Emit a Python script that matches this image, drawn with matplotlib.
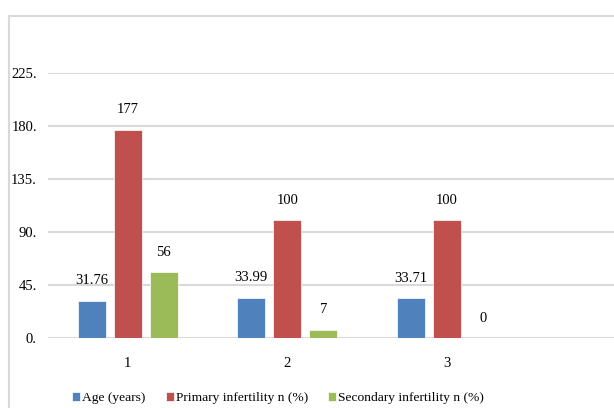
import numpy as np
import matplotlib.pyplot as plt
from matplotlib.patches import Rectangle

plt.rcParams['font.family'] = ['Liberation Serif', 'DejaVu Serif']

groups = ['1', '2', '3']
age_years = [31.76, 33.99, 33.71]
primary = [177, 100, 100]
secondary = [56, 7, 0]
series = [
    ('Age (years)', age_years, '#4F81BD'),
    ('Primary infertility n (%)', primary, '#C0504D'),
    ('Secondary infertility n (%)', secondary, '#9BBB59'),
]
yticks = [0, 45, 90, 135, 180, 225]

W, H = 614, 408
fig = plt.figure(figsize=(W / 100, H / 100), dpi=100)

# outer chart frame (only left and top visible)
fig.patches.append(Rectangle((9 / W, -0.1), 1.2, 1 - 16 / H + 0.1,
                             transform=fig.transFigure, fill=False,
                             edgecolor='#D9D9D9', linewidth=1.5))

# plot area: x from 48 px to past the right edge, y 0 at 338 px, 225 at 73 px
x0, x1 = 48, 48 + 3.55 * 159.5
y0, ytop = 338, 73
ax = fig.add_axes([x0 / W, 1 - y0 / H, (x1 - x0) / W, (y0 - ytop) / H])
ax.set_xlim(0.5, 4.05)
ax.set_ylim(0, 225)
ax.set_facecolor('none')

x = np.arange(1, len(groups) + 1)
width = 0.176
step = 0.226
for i, (name, vals, color) in enumerate(series):
    pos = x + (i - 1) * step
    ax.bar(pos, vals, width, color=color, label=name, zorder=3,
           edgecolor='white', linewidth=0.5)
    for p, v in zip(pos, vals):
        ax.annotate(f'{v:g}', (p, v), xytext=(0, 14.4), textcoords='offset points',
                    ha='center', va='center', fontsize=10.5)

ax.set_yticks(yticks)
ax.set_yticklabels([f'{t}.' for t in yticks])
ax.set_xticks(x)
ax.set_xticklabels(groups)
ax.tick_params(length=0, labelsize=10.5, colors='black')
ax.tick_params(axis='y', pad=8)
ax.tick_params(axis='x', pad=14)
ax.grid(axis='y', color='#D9D9D9', linewidth=1.5, zorder=0)
for s in ax.spines.values():
    s.set_visible(False)

fig.legend(loc='center', bbox_to_anchor=(278 / W, 1 - 398 / H), ncol=3,
           frameon=False, fontsize=9.7, handlelength=0.6, handleheight=0.6,
           handletextpad=0.15, columnspacing=1.5)

fig.savefig('out.png', dpi=100)
